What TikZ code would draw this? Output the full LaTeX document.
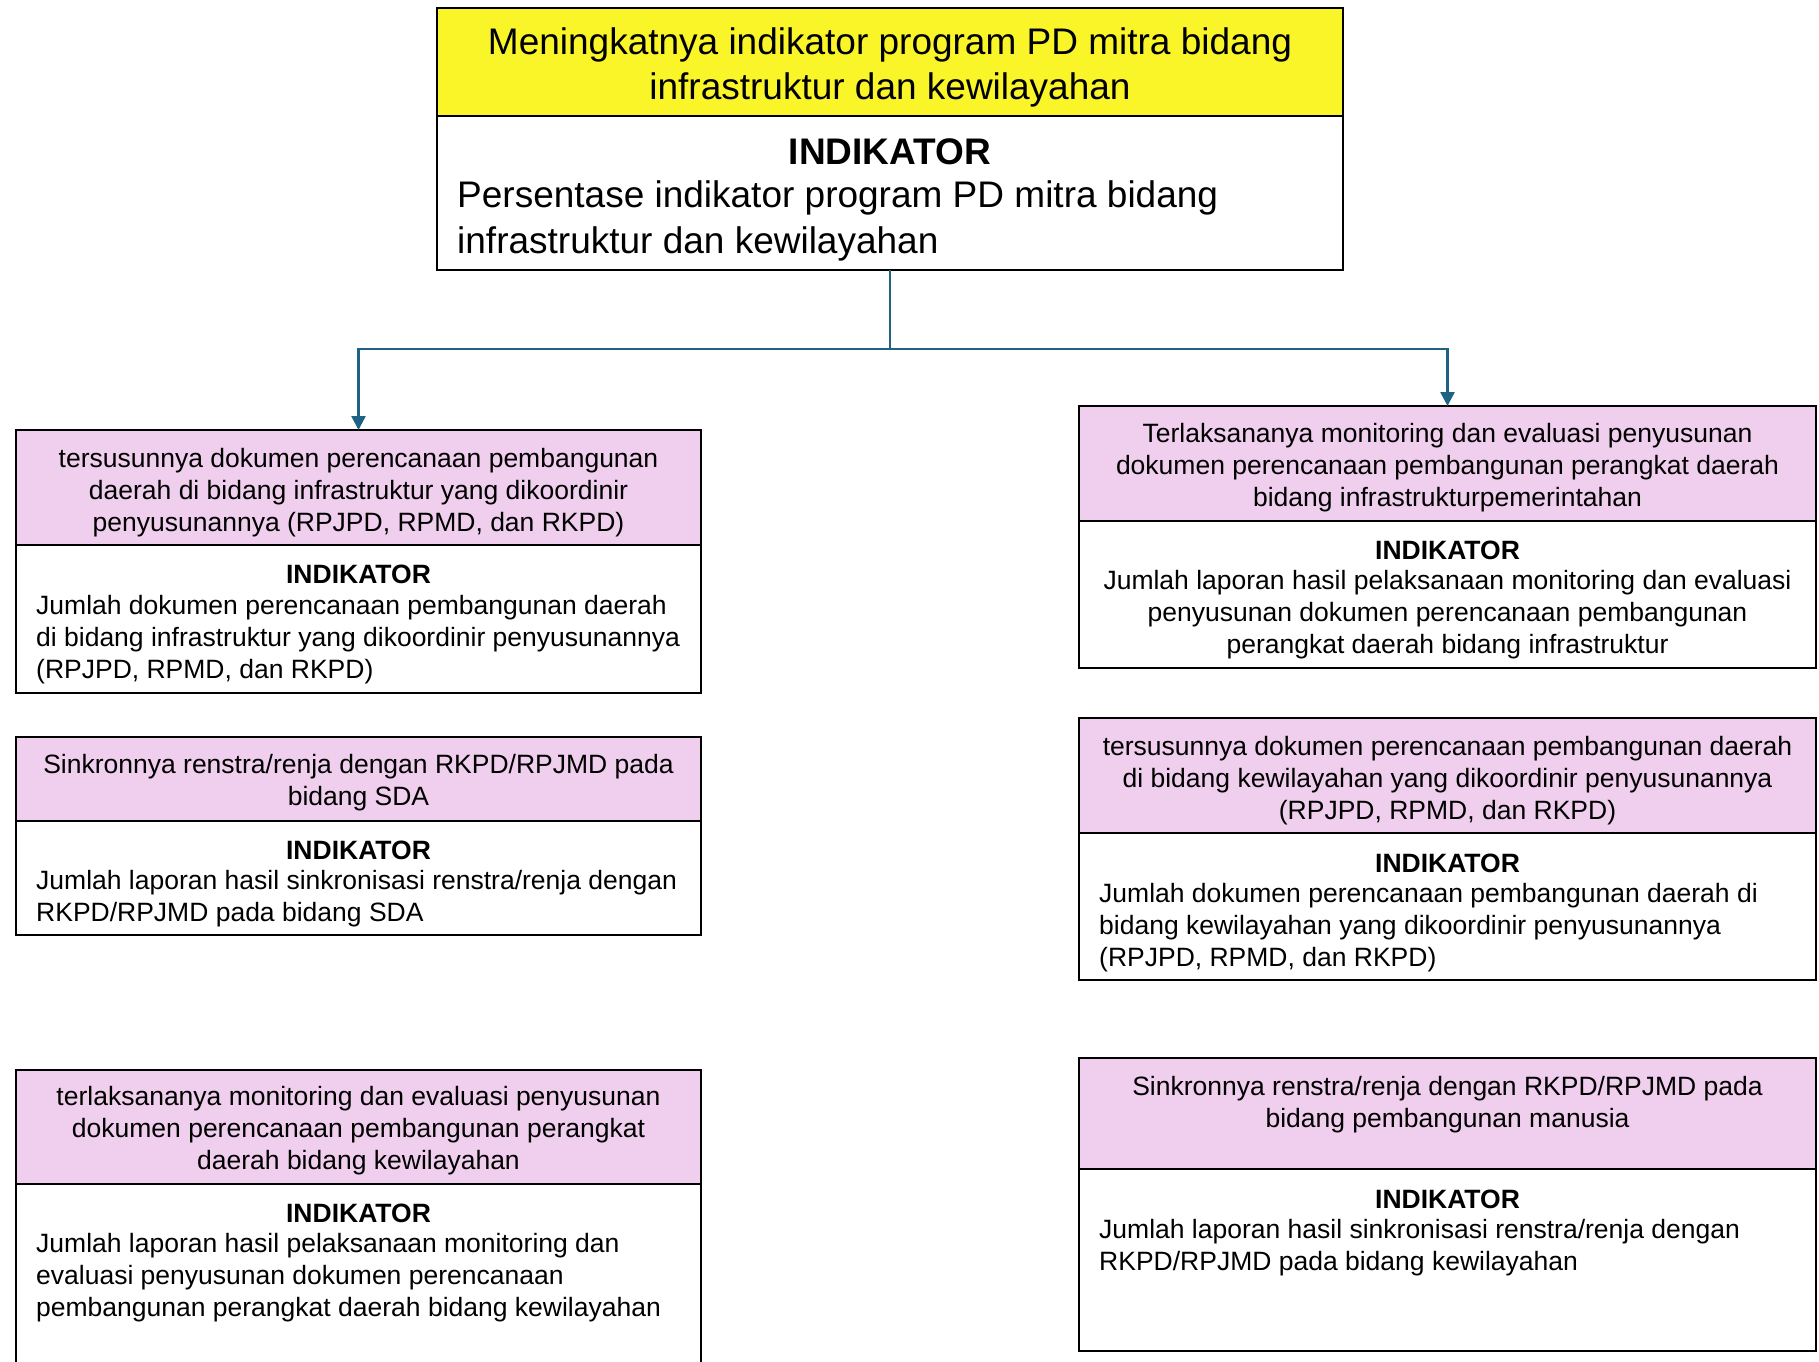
\documentclass[tikz,border=0pt]{standalone}
\usepackage{fontspec}
\setmainfont{Liberation Sans}
\usetikzlibrary{arrows.meta,calc}
\definecolor{pinkhead}{RGB}{240,206,237}
\definecolor{yellowhead}{RGB}{250,245,40}
\definecolor{connblue}{RGB}{31,98,132}
\tikzset{
  boxbase/.style={draw=black, line width=2pt, rectangle, inner sep=0pt, outer sep=0pt, anchor=north west},
  headbox/.style={boxbase, fill=pinkhead},
  yellowbox/.style={boxbase, fill=yellowhead, line width=2.5pt},
  bodybox/.style={boxbase, fill=white},
  topbody/.style={boxbase, fill=white, line width=2.5pt},
  txt/.style={inner sep=0pt, yshift=-2.5pt, font=\fontsize{26.5}{32}\selectfont},
  ctxt/.style={txt, align=center},
  ltxt/.style={txt, align=left, anchor=west},
  ind/.style={inner sep=0pt, yshift=-2.5pt, font=\fontsize{26.5}{32}\selectfont\bfseries},
  bigtxt/.style={inner sep=0pt, yshift=-3pt, font=\fontsize{37}{45}\selectfont},
  bigind/.style={inner sep=0pt, yshift=-2pt, font=\fontsize{37}{45}\selectfont\bfseries},
  conn/.style={draw=connblue, line width=2.5pt},
  connarrow/.style={conn, -{Triangle[width=14pt,length=14pt]}}
}
\begin{document}
\begin{tikzpicture}[x=1pt,y=-1pt]
\clip (0,0) rectangle (1819,1361);
\useasboundingbox (0,0) rectangle (1819,1361);
\fill[white] (0,0) rectangle (1819,1361);

% top box
\node[yellowbox, minimum width=906pt, minimum height=108pt] (toph) at (437,8) {};
\node[topbody, minimum width=906pt, minimum height=154pt] (topb) at (437,116) {};
\node[bigtxt, align=center] (topht) at (890,64) {Meningkatnya indikator program PD mitra bidang\\infrastruktur dan kewilayahan};
\node[bigind] (topk) at (890,150) {INDIKATOR};
\node[bigtxt, align=left, anchor=west, font=\fontsize{37}{46}\selectfont] (topd) at (457,218) {Persentase indikator program PD mitra bidang\\infrastruktur dan kewilayahan};

% left column
\node[headbox, minimum width=685pt, minimum height=115pt] (l1h) at (16,430) {};
\node[bodybox, minimum width=685pt, minimum height=148pt] (l1b) at (16,545) {};
\node[ctxt] (l1ht) at (358.5,490) {tersusunnya dokumen perencanaan pembangunan\\daerah di bidang infrastruktur yang dikoordinir\\penyusunannya (RPJPD, RPMD, dan RKPD)};
\node[ind] (l1k) at (358.5,572) {INDIKATOR};
\node[ltxt] (l1d) at (36,637.5) {Jumlah dokumen perencanaan pembangunan daerah\\di bidang infrastruktur yang dikoordinir penyusunannya\\(RPJPD, RPMD, dan RKPD)};

\node[headbox, minimum width=685pt, minimum height=84pt] (l2h) at (16,737) {};
\node[bodybox, minimum width=685pt, minimum height=114pt] (l2b) at (16,821) {};
\node[ctxt] (l2ht) at (358.5,780.5) {Sinkronnya renstra/renja dengan RKPD/RPJMD pada\\bidang SDA};
\node[ind] (l2k) at (358.5,848) {INDIKATOR};
\node[ltxt] (l2d) at (36,896.5) {Jumlah laporan hasil sinkronisasi renstra/renja dengan\\RKPD/RPJMD pada bidang SDA};

\node[headbox, minimum width=685pt, minimum height=114pt] (l3h) at (16,1070) {};
\node[bodybox, minimum width=685pt, minimum height=220pt] (l3b) at (16,1184) {};
\node[ctxt] (l3ht) at (358.5,1128) {terlaksananya monitoring dan evaluasi penyusunan\\dokumen perencanaan pembangunan perangkat\\daerah bidang kewilayahan};
\node[ind] (l3k) at (358.5,1211) {INDIKATOR};
\node[ltxt] (l3d) at (36,1275.5) {Jumlah laporan hasil pelaksanaan monitoring dan\\evaluasi penyusunan dokumen perencanaan\\pembangunan perangkat daerah bidang kewilayahan};

% right column
\node[headbox, minimum width=737pt, minimum height=115pt] (r1h) at (1079,406) {};
\node[bodybox, minimum width=737pt, minimum height=147pt] (r1b) at (1079,521) {};
\node[ctxt] (r1ht) at (1447.5,465.5) {Terlaksananya monitoring dan evaluasi penyusunan\\dokumen perencanaan pembangunan perangkat daerah\\bidang infrastrukturpemerintahan};
\node[ind] (r1k) at (1447.5,548) {INDIKATOR};
\node[ctxt] (r1d) at (1447.5,612.5) {Jumlah laporan hasil pelaksanaan monitoring dan evaluasi\\penyusunan dokumen perencanaan pembangunan\\perangkat daerah bidang infrastruktur};

\node[headbox, minimum width=737pt, minimum height=115pt] (r2h) at (1079,718) {};
\node[bodybox, minimum width=737pt, minimum height=147pt] (r2b) at (1079,833) {};
\node[ctxt] (r2ht) at (1447.5,778) {tersusunnya dokumen perencanaan pembangunan daerah\\di bidang kewilayahan yang dikoordinir penyusunannya\\(RPJPD, RPMD, dan RKPD)};
\node[ind] (r2k) at (1447.5,861) {INDIKATOR};
\node[ltxt] (r2d) at (1099,925) {Jumlah dokumen perencanaan pembangunan daerah di\\bidang kewilayahan yang dikoordinir penyusunannya\\(RPJPD, RPMD, dan RKPD)};

\node[headbox, minimum width=737pt, minimum height=111pt] (r3h) at (1079,1058) {};
\node[bodybox, minimum width=737pt, minimum height=182pt] (r3b) at (1079,1169) {};
\node[ctxt] (r3ht) at (1447.5,1102.5) {Sinkronnya renstra/renja dengan RKPD/RPJMD pada\\bidang pembangunan manusia};
\node[ind] (r3k) at (1447.5,1197) {INDIKATOR};
\node[ltxt] (r3d) at (1099,1245.5) {Jumlah laporan hasil sinkronisasi renstra/renja dengan\\RKPD/RPJMD pada bidang kewilayahan};

% connectors
\coordinate (split) at ($(topb.south)+(0,79)$);
\draw[conn] (topb.south) -- (split);
\draw[connarrow] (split) -| (l1h.north);
\draw[connarrow] (split) -| (r1h.north);
\end{tikzpicture}
\end{document}
